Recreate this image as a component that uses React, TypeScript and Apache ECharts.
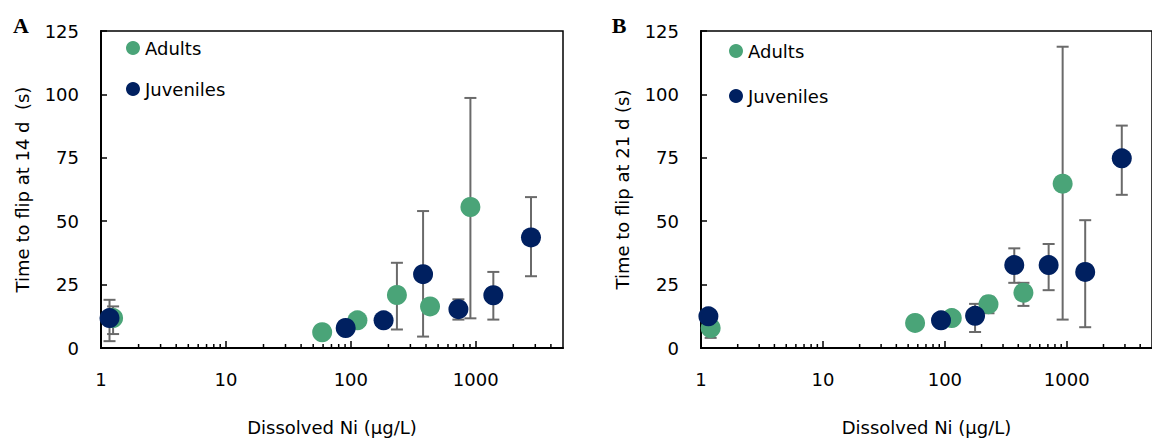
import React, { useEffect, useRef } from "react";
import * as echarts from "echarts";

const FONT = "DejaVu Sans";
const GREEN = "#4AA478";
const NAVY = "#002060";
const GREY = "#6A6A6A";

const X_LABELS = [1, 10, 100, 1000];
const MINOR_TICKS = [
  2, 3, 4, 5, 6, 7, 8, 9, 20, 30, 40, 50, 60, 70, 80, 90, 200, 300, 400, 500, 600, 700, 800, 900,
  2000, 3000, 4000,
];
const SERIES_NAMES = ["Adults", "Juveniles"];
const Y_TITLE_A = "Time to flip at 14 d  (s)";
const Y_TITLE_B = "Time to flip at 21 d (s)";
const X_TITLE = "Dissolved Ni (μg/L)";

// Panel A (14 d)
const A_ADULT_X = [1.25, 59, 113, 234, 431, 907];
const A_ADULT_Y = [11.8, 6.2, 10.9, 20.9, 16.4, 55.6];
const A_ADULT_LOW = [5.5, null, null, 7.3, null, 11.7];
const A_ADULT_HIGH = [16.4, null, null, 33.6, null, 98.6];
const A_JUV_X = [1.17, 91, 183, 379, 727, 1384, 2771];
const A_JUV_Y = [11.8, 7.9, 10.9, 29.1, 15.3, 20.8, 43.6];
const A_JUV_LOW = [2.7, null, null, 4.5, 11.2, 11.2, 28.3];
const A_JUV_HIGH = [19.0, null, null, 54.0, 19.2, 30.0, 59.5];

// Panel B (21 d)
const B_ADULT_X = [1.2, 57, 114, 228, 441, 925];
const B_ADULT_Y = [7.9, 9.9, 11.8, 17.3, 21.8, 64.8];
const B_ADULT_LOW = [4.0, null, null, 13.7, 16.6, 11.2];
const B_ADULT_HIGH = [11.8, null, null, 20.2, 25.7, 118.8];
const B_JUV_X = [1.15, 93, 177, 371, 710, 1416, 2826];
const B_JUV_Y = [12.5, 10.9, 12.7, 32.7, 32.7, 30.0, 74.8];
const B_JUV_LOW = [null, null, 6.3, 25.7, 22.8, 8.2, 60.4];
const B_JUV_HIGH = [null, null, 17.4, 39.3, 41.0, 50.4, 87.7];

const pts = (xs: number[], ys: number[]) => xs.map((x, i) => [x, ys[i]]);
const bars = (xs: number[], lo: (number | null)[], hi: (number | null)[]) =>
  xs
    .map((x, i) => [x, lo[i], hi[i]])
    .filter((d) => d[1] !== null && d[2] !== null);

const errorRender = (params: any, api: any) => {
  const x = api.value(0);
  const pLo = api.coord([x, api.value(1)]);
  const pHi = api.coord([x, api.value(2)]);
  const w = 6;
  const style = { stroke: GREY, lineWidth: 2 };
  return {
    type: "group",
    children: [
      { type: "line", shape: { x1: pLo[0], y1: pLo[1], x2: pHi[0], y2: pHi[1] }, style },
      { type: "line", shape: { x1: pHi[0] - w, y1: pHi[1], x2: pHi[0] + w, y2: pHi[1] }, style },
      { type: "line", shape: { x1: pLo[0] - w, y1: pLo[1], x2: pLo[0] + w, y2: pLo[1] }, style },
    ],
  };
};

const minorRender = (params: any, api: any) => {
  const p = api.coord([api.value(0), 0]);
  return {
    type: "line",
    shape: { x1: p[0], y1: p[1], x2: p[0], y2: p[1] - 4 },
    style: { stroke: "#000", lineWidth: 1.5 },
  };
};

const textStyle = { fontFamily: FONT, fontSize: 18, color: "#000" };

const makeX = (gridIndex: number) => ({
  type: "log",
  logBase: 10,
  gridIndex,
  min: 1,
  max: 5000,
  axisLine: { show: true, onZero: false, lineStyle: { color: "#000", width: 2 } },
  axisTick: { show: true, inside: true, length: 7, lineStyle: { color: "#000", width: 1.5 } },
  axisLabel: {
    ...textStyle,
    margin: 22,
    showMaxLabel: false,
    formatter: (v: number) => (X_LABELS.includes(Math.round(v)) ? String(Math.round(v)) : ""),
  },
  splitLine: { show: false },
  minorTick: { show: false },
  name: X_TITLE,
  nameLocation: "middle",
  nameGap: 70,
  nameTextStyle: textStyle,
});

const makeY = (gridIndex: number, name: string) => ({
  type: "value",
  gridIndex,
  min: 0,
  max: 125,
  interval: 25,
  axisLine: { show: true, onZero: false, lineStyle: { color: "#000", width: 2 } },
  axisTick: { show: true, inside: true, length: 6, lineStyle: { color: "#000", width: 1.5 } },
  axisLabel: { ...textStyle, margin: 22 },
  splitLine: { show: false },
  name,
  nameLocation: "middle",
  nameRotate: 90,
  nameGap: 70,
  nameTextStyle: textStyle,
});

const makeLegend = (left: number, top: number, gap: number) => ({
  data: SERIES_NAMES,
  orient: "vertical",
  left,
  top,
  padding: 0,
  itemWidth: 14,
  itemHeight: 14,
  itemGap: gap,
  icon: "circle",
  selectedMode: false,
  textStyle,
});

const scatter = (name: string, idx: number, data: number[][], color: string, z: number) => ({
  type: "scatter",
  name,
  xAxisIndex: idx,
  yAxisIndex: idx,
  data,
  symbol: "circle",
  symbolSize: 20,
  itemStyle: { color, opacity: 1 },
  z,
  silent: true,
});

const errSeries = (idx: number, key: string, data: any[]) => ({
  type: "custom",
  name: "err-" + key,
  xAxisIndex: idx,
  yAxisIndex: idx,
  data,
  encode: { x: 0, y: [1, 2] },
  renderItem: errorRender,
  z: 1,
  silent: true,
});

const minorSeries = (idx: number) => ({
  type: "custom",
  name: "minor" + idx,
  xAxisIndex: idx,
  yAxisIndex: idx,
  data: MINOR_TICKS.map((v) => [v, 0]),
  encode: { x: 0, y: 1 },
  renderItem: minorRender,
  z: 5,
  silent: true,
});

export default function App() {
  const ref = useRef<HTMLDivElement>(null);
  useEffect(() => {
    const chart = echarts.init(ref.current!, null, { renderer: "svg" });
    chart.setOption({
      animation: false,
      backgroundColor: "#fff",
      grid: [
        { left: 101, top: 31, width: 462, height: 321, show: true, borderColor: "#000", borderWidth: 1.5 },
        { left: 701, top: 31, width: 462, height: 321, show: true, borderColor: "#000", borderWidth: 1.5 },
      ],
      xAxis: [makeX(0), makeX(1)],
      yAxis: [makeY(0, Y_TITLE_A), makeY(1, Y_TITLE_B)],
      legend: [makeLegend(126, 39, 23), makeLegend(729, 42, 27)],
      graphic: [
        {
          type: "text",
          x: 21,
          y: 25,
          style: {
            text: "A",
            font: "bold 22px 'Liberation Serif'",
            fill: "#000",
            textAlign: "center",
            textVerticalAlign: "middle",
          },
        },
        {
          type: "text",
          x: 619,
          y: 25,
          style: {
            text: "B",
            font: "bold 22px 'Liberation Serif'",
            fill: "#000",
            textAlign: "center",
            textVerticalAlign: "middle",
          },
        },
      ],
      series: [
        errSeries(0, "a-adult", bars(A_ADULT_X, A_ADULT_LOW, A_ADULT_HIGH)),
        errSeries(0, "a-juv", bars(A_JUV_X, A_JUV_LOW, A_JUV_HIGH)),
        errSeries(1, "b-adult", bars(B_ADULT_X, B_ADULT_LOW, B_ADULT_HIGH)),
        errSeries(1, "b-juv", bars(B_JUV_X, B_JUV_LOW, B_JUV_HIGH)),
        scatter("Adults", 0, pts(A_ADULT_X, A_ADULT_Y), GREEN, 2),
        scatter("Juveniles", 0, pts(A_JUV_X, A_JUV_Y), NAVY, 3),
        scatter("Adults", 1, pts(B_ADULT_X, B_ADULT_Y), GREEN, 2),
        scatter("Juveniles", 1, pts(B_JUV_X, B_JUV_Y), NAVY, 3),
        minorSeries(0),
        minorSeries(1),
      ],
    });
    return () => chart.dispose();
  }, []);
  return (
    <div
      ref={ref}
      style={{ position: "fixed", left: 0, top: 0, width: 1152, height: 441 }}
    />
  );
}
